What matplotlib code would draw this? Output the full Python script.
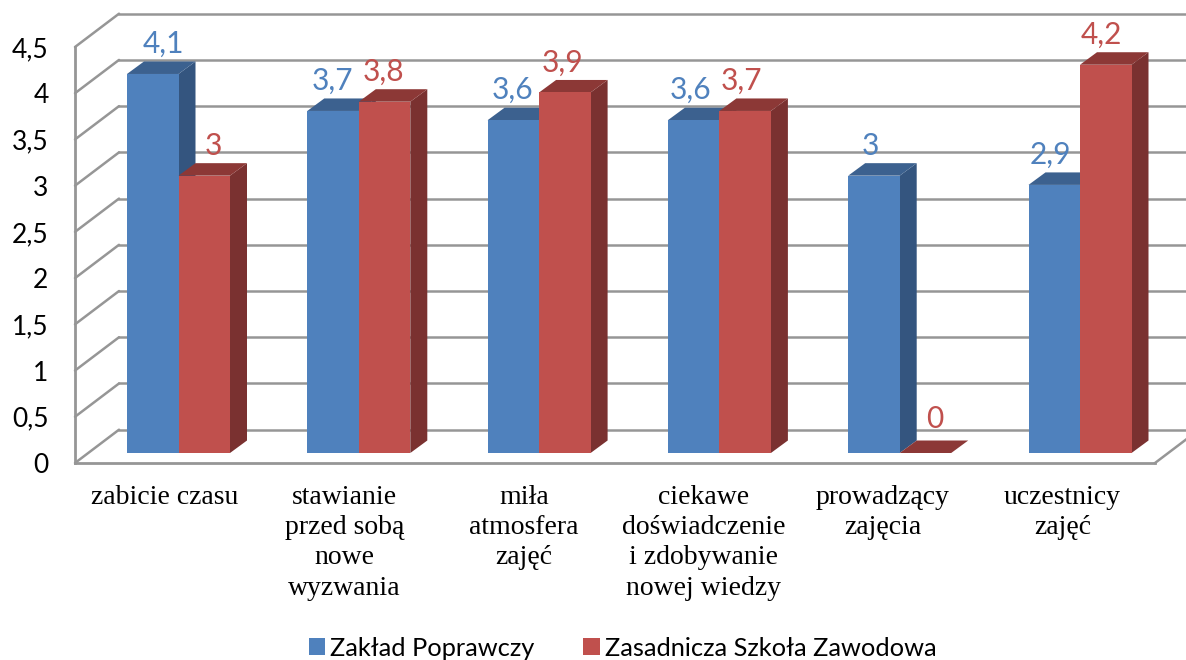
import matplotlib
matplotlib.use('Agg')
import matplotlib.pyplot as plt
from matplotlib.patches import Patch, Polygon

# dane z wykresu
kategorie = ['zabicie czasu', 'stawianie\nprzed sobą\nnowe\nwyzwania', 'miła\natmosfera\nzajęć',
             'ciekawe\ndoświadczenie\ni zdobywanie\nnowej wiedzy', 'prowadzący\nzajęcia', 'uczestnicy\nzajęć']
zaklad = [4.1, 3.7, 3.6, 3.6, 3, 2.9]
szkola = [3, 3.8, 3.9, 3.7, 0, 4.2]
nazwy = ['Zakład Poprawczy', 'Zasadnicza Szkoła Zawodowa']
podzialka = [0, 0.5, 1, 1.5, 2, 2.5, 3, 3.5, 4, 4.5]

W, H = 1186, 660
LEFT, RIGHT, BOTTOM, TOP = 75, 1155, 463, 47
PX_X = (RIGHT - LEFT) / 6
PX_Y = (BOTTOM - TOP) / 4.5

SZARY = '#969696'
KOLORY = {'blue': ('#4F81BD', '#34557F', '#3C618F'), 'red': ('#C0504D', '#7A3130', '#8C3836')}


def px_x(p):
    return p / PX_X


def px_y(p):
    return p / PX_Y


def napis(v):
    return f'{v:g}'.replace('.', ',')


def slupek(ax, x0, v, kolory):
    """Prostopadłościan: przód, bok i góra, przesunięte w głąb wykresu"""
    szer = px_x(51.5)
    gx, gy = px_x(17), px_y(12.5)
    y0 = px_y(10)
    przod, bok, gora = kolory
    ax.add_patch(Polygon([(x0 + szer, y0), (x0 + szer + gx, y0 + gy), (x0 + szer + gx, y0 + v + gy), (x0 + szer, y0 + v)],
                         facecolor=bok, edgecolor='none', clip_on=False, zorder=3))
    ax.add_patch(Polygon([(x0, y0 + v), (x0 + gx, y0 + v + gy), (x0 + szer + gx, y0 + v + gy), (x0 + szer, y0 + v)],
                         facecolor=gora, edgecolor='none', clip_on=False, zorder=3))
    if v > 0:
        ax.add_patch(Polygon([(x0, y0), (x0 + szer, y0), (x0 + szer, y0 + v), (x0, y0 + v)],
                             facecolor=przod, edgecolor='none', clip_on=False, zorder=3))


fig = plt.figure(figsize=(W / 100, H / 100), dpi=100)
ax = fig.add_axes([LEFT / W, 1 - BOTTOM / H, (RIGHT - LEFT) / W, (BOTTOM - TOP) / H])
ax.set_xlim(0, 6)
ax.set_ylim(0, 4.5)

# Siatka: ściana tylna i ściana boczna
sc_x, sc_y = px_x(44), px_y(33.3)
for t in podzialka:
    ax.plot([0, sc_x], [t, t + sc_y], color=SZARY, lw=1.8, clip_on=False, zorder=1, solid_capstyle='round')
    ax.plot([sc_x, 6 + sc_x], [t + sc_y, t + sc_y], color=SZARY, lw=1.8, clip_on=False, zorder=1)
ax.plot([6, 6 + sc_x], [0, sc_y], color=SZARY, lw=1.8, clip_on=False, zorder=1)

for spine in ('top', 'right'):
    ax.spines[spine].set_visible(False)
for spine in ('left', 'bottom'):
    ax.spines[spine].set_color(SZARY)
    ax.spines[spine].set_linewidth(2.0)

ax.set_yticks(podzialka)
ax.set_yticklabels([napis(t) for t in podzialka], fontname='Lato', fontsize=19, color='black')
ax.tick_params(axis='y', length=0, pad=19)
ax.set_xticks([(i * 179.5 + 90) / PX_X for i in range(6)])
ax.set_xticklabels(kategorie, fontname='Liberation Serif', fontsize=20, color='black', linespacing=1.27)
ax.tick_params(axis='x', length=0, pad=16)

# Przesunięcia etykiet w pikselach, w oryginale ustawione ręcznie
przes_zaklad = [11, -1, -1, -3, -4, -4]
przes_szkola = [9, -1, -2, -4, 9, -4]

for i in range(6):
    x_z = i * 180.3 / PX_X + px_x(52)
    x_s = x_z + px_x(51.5)
    slupek(ax, x_z, zaklad[i], KOLORY['blue'])
    slupek(ax, x_s, szkola[i], KOLORY['red'])
    ax.annotate(napis(zaklad[i]), (x_z + px_x(25.7), zaklad[i] + px_y(10)), xytext=(przes_zaklad[i], 21),
                textcoords='offset pixels', ha='center', va='baseline', fontname='Lato', fontsize=21.5,
                color='#4F81BD', annotation_clip=False, zorder=4)
    ax.annotate(napis(szkola[i]), (x_s + px_x(25.7), szkola[i] + px_y(10)), xytext=(przes_szkola[i], 21 + (4 if szkola[i] == 0 else 0)),
                textcoords='offset pixels', ha='center', va='baseline', fontname='Lato', fontsize=21.5,
                color='#C0504D', annotation_clip=False, zorder=4)

uchwyty = [Patch(facecolor=KOLORY['blue'][0], label=nazwy[0]), Patch(facecolor=KOLORY['red'][0], label=nazwy[1])]
fig.legend(handles=uchwyty, loc='center', bbox_to_anchor=(622.5 / W, 1 - 648 / H), ncol=2, frameon=False,
           prop={'family': 'Lato', 'size': 18.3}, handlelength=0.65, handleheight=0.65, handletextpad=0.2,
           columnspacing=1.9, borderpad=0, borderaxespad=0)

fig.savefig('out.png', dpi=100)
